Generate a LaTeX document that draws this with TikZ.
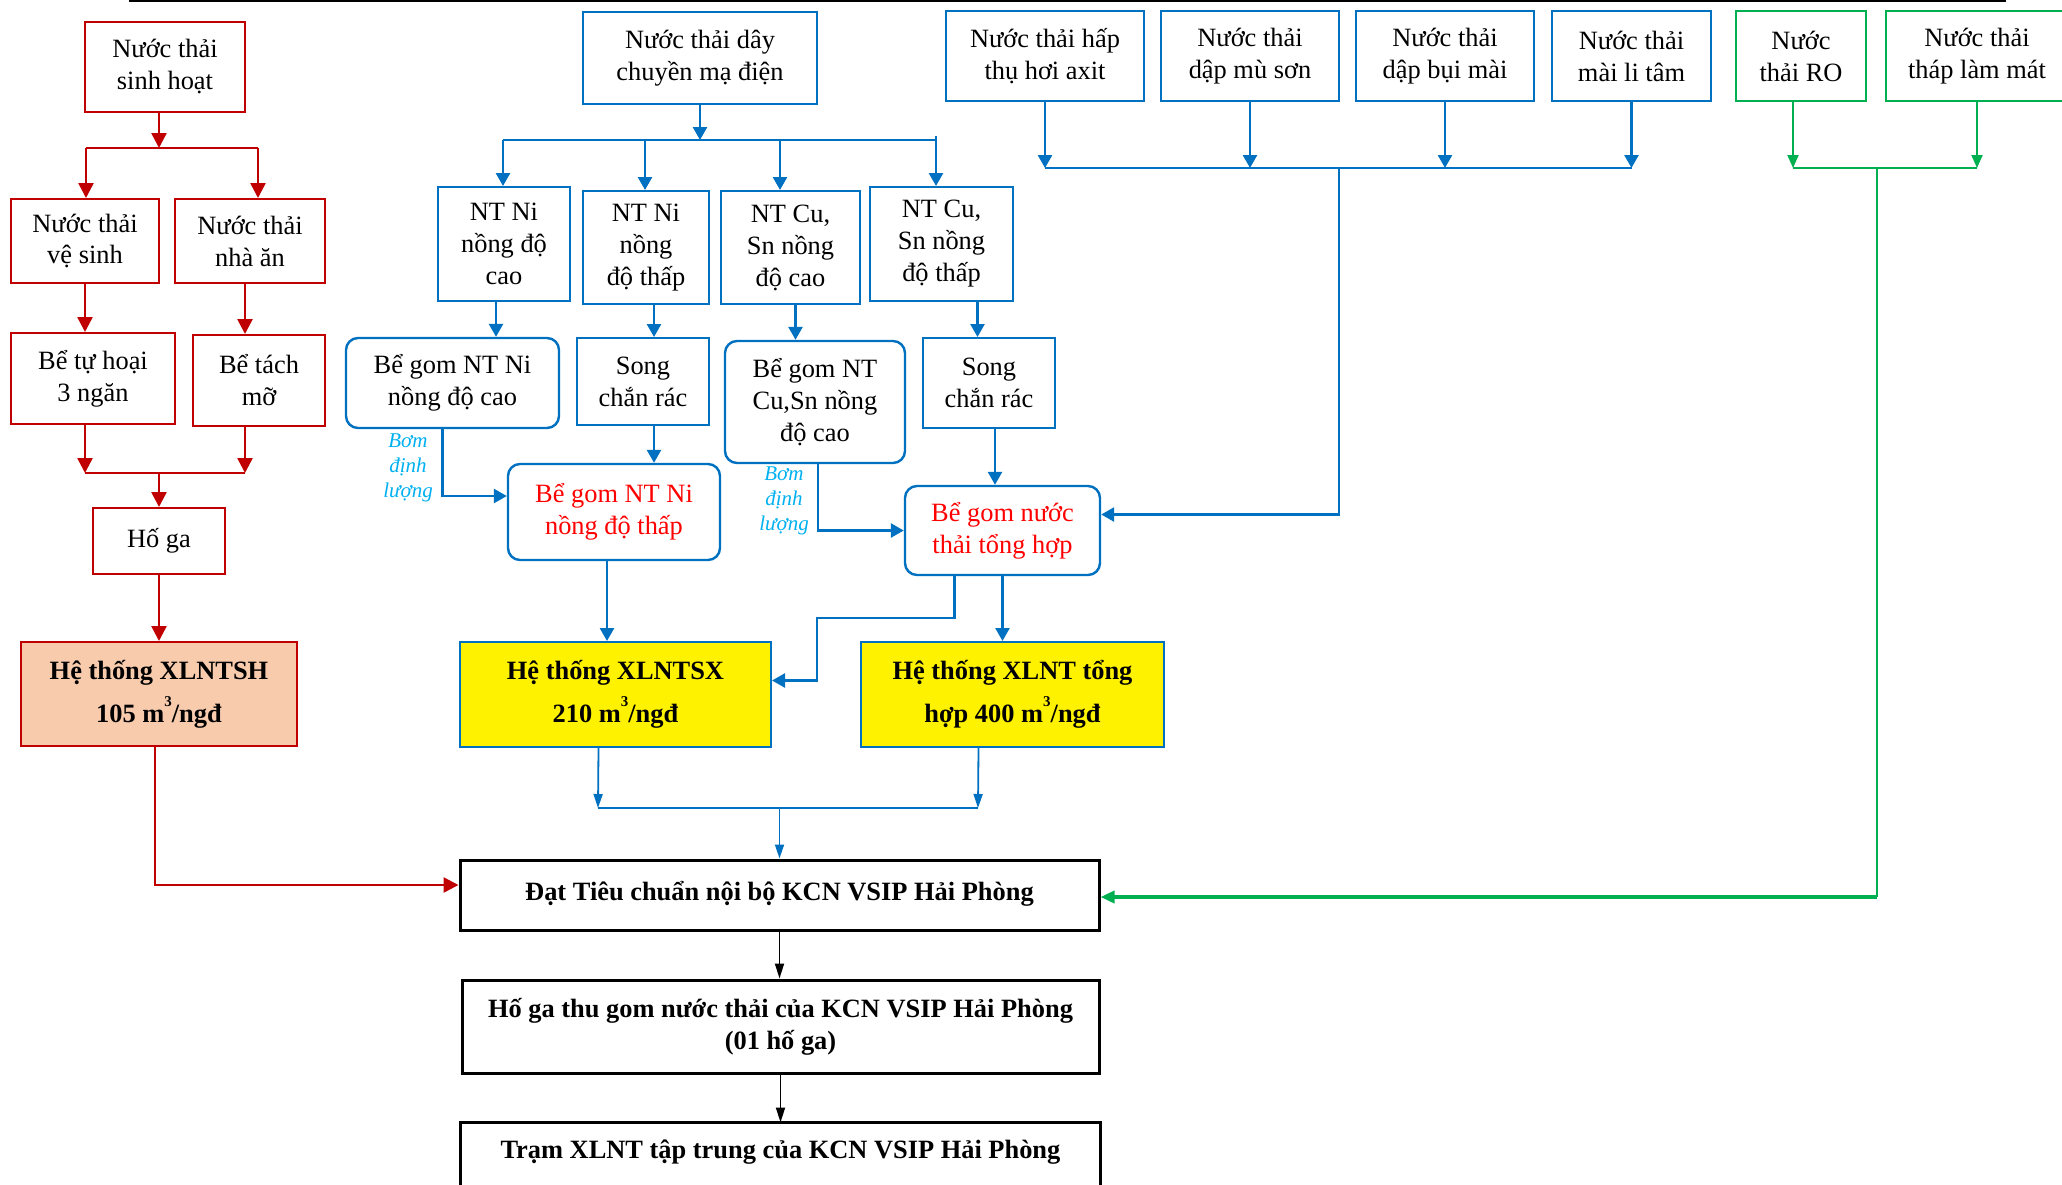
\documentclass[tikz,border=0pt]{standalone}
\usepackage{fontspec}
\setmainfont{Liberation Serif}
\usetikzlibrary{arrows.meta,calc}
\definecolor{rd}{HTML}{C00000}
\definecolor{bl}{HTML}{0070C0}
\definecolor{gr}{HTML}{00B050}
\definecolor{cy}{HTML}{00B0F0}
\definecolor{peach}{HTML}{F8CBAD}
\definecolor{txtred}{HTML}{FF0000}
% raised cubic exponent as printed in the capacity lines
\newcommand{\cubexp}{\raisebox{8pt}{\fontsize{7.5}{8}\selectfont 3}}

\begin{document}
\begin{tikzpicture}[x=0.5pt,y=-0.5pt,
  every node/.style={inner sep=1pt, align=center, font=\fontsize{13.2}{16}\selectfont},
  redbox/.style={draw=rd, line width=1pt},
  bluebox/.style={draw=bl, line width=1pt},
  bluernd/.style={draw=bl, line width=1.2pt, rounded corners=6pt},
  greenbox/.style={draw=gr, line width=1pt},
  plantbox/.style={line width=1pt, font=\fontsize{13.2}{21.5}\selectfont\bfseries},
  blackbox/.style={draw=black, line width=1.5pt, font=\fontsize{13.2}{16}\selectfont\bfseries},
  lbl/.style={text=cy, font=\fontsize{10.5}{12.5}\selectfont\itshape},
  sz/.style 2 args={minimum width=#1, minimum height=#2},
  rarr/.style={draw=rd, line width=1.3pt, -{Triangle[length=7.5pt,width=7.5pt]}},
  rln/.style={draw=rd, line width=0.8pt},
  barr/.style={draw=bl, line width=1.3pt, -{Triangle[length=6.5pt,width=7pt]}},
  bln/.style={draw=bl, line width=1.3pt},
  bthin/.style={draw=bl, line width=0.9pt, -{Triangle[length=7pt,width=4.5pt]}},
  bthinln/.style={draw=bl, line width=0.9pt},
  garr/.style={draw=gr, line width=1pt, -{Triangle[length=6.5pt,width=5.5pt]}},
  gln/.style={draw=gr, line width=1pt},
  gthick/.style={draw=gr, line width=1.8pt, -{Triangle[length=7pt,width=6pt]}},
  karr/.style={draw=black, line width=0.9pt, -{Triangle[length=7.5pt,width=4.5pt]}},
]
\path[use as bounding box] (0,0) rectangle (2062,1184);
\clip (0,0) rectangle (2062,1184);

% header rule
\draw[line width=1pt] (129,1) -- (2006,1);

% ---------- domestic wastewater (red) ----------
\node[redbox, sz={80pt}{45pt}] (A) at (165,67) {Nước thải\\sinh hoạt};
\node[redbox, sz={74pt}{42pt}] (B) at (85,241) {Nước thải\\vệ sinh};
\node[redbox, sz={75pt}{42pt}] (C) at (250,241) {Nước thải\\nhà ăn};
\node[redbox, sz={82pt}{45.5pt}] (D) at (93,378.5) {Bể tự hoại\\3 ngăn};
\node[redbox, sz={66pt}{45.5pt}] (E) at (259,380.5) {Bể tách\\mỡ};
\node[redbox, sz={66pt}{33pt}] (F) at (159,541) {Hố ga};
\node[plantbox, draw=rd, fill=peach, sz={138pt}{52pt}] (G) at (159,694)
  {Hệ thống XLNTSH\\105 m\cubexp/ngđ};

% ---------- production wastewater (blue) ----------
\node[bluebox, sz={117pt}{46pt}] (H) at (700,58) {Nước thải dây\\chuyền mạ điện};
\node[bluebox, sz={66pt}{57pt}] (I1) at (504,244) {NT Ni\\nồng độ\\cao};
\node[bluebox, sz={63pt}{56.5pt}] (I2) at (646,247.5) {NT Ni\\nồng\\độ thấp};
\node[bluebox, sz={69.5pt}{56.5pt}] (I3) at (790.5,247.5) {NT Cu,\\Sn nồng\\độ cao};
\node[bluebox, sz={71.5pt}{57pt}] (I4) at (941.5,244) {NT Cu,\\Sn nồng\\độ thấp};
\node[bluernd, sz={106.5pt}{45pt}] (J1) at (452.5,383) {Bể gom NT Ni\\nồng độ cao};
\node[bluebox, sz={66pt}{43.5pt}] (J2) at (643,381.5) {Song\\chắn rác};
\node[bluernd, sz={90pt}{61pt}] (J3) at (815,402) {Bể gom NT\\Cu,Sn nồng\\độ cao};
\node[bluebox, sz={66pt}{45pt}] (J4) at (989,383) {Song\\chắn rác};
\node[bluernd, text=txtred, sz={106pt}{48pt}] (K1) at (614,512) {Bể gom NT Ni\\nồng độ thấp};
\node[bluernd, text=txtred, sz={97.5pt}{44.5pt}] (K2) at (1002.5,530.5) {Bể gom nước\\thải tổng hợp};
\node[plantbox, draw=bl, fill=yellow, sz={155.5pt}{52.5pt}] (L1) at (615.5,694.5)
  {Hệ thống XLNTSX\\210 m\cubexp/ngđ};
\node[plantbox, draw=bl, fill=yellow, sz={151.5pt}{52.5pt}] (L2) at (1012.5,694.5)
  {Hệ thống XLNT tổng\\hợp 400 m\cubexp/ngđ};
\node[lbl] (pump1) at (408,468) {Bơm\\định\\lượng};
\node[lbl] (pump2) at (784,501) {Bơm\\định\\lượng};

\node[bluebox, sz={99pt}{45pt}] (P1) at (1045,56) {Nước thải hấp\\thụ hơi axit};
\node[bluebox, sz={89pt}{45pt}] (P2) at (1250,56) {Nước thải\\dập mù sơn};
\node[bluebox, sz={89pt}{45pt}] (P3) at (1445,56) {Nước thải\\dập bụi mài};
\node[bluebox, sz={79.5pt}{45pt}] (P4) at (1631.5,56) {Nước thải\\mài li tâm};

% ---------- clean streams (green) ----------
\node[greenbox, sz={65pt}{45pt}] (Q1) at (1801,56) {Nước\\thải RO};
\node[greenbox, sz={91pt}{45pt}] (Q2) at (1977,56) {Nước thải\\tháp làm mát};

% ---------- discharge chain (black) ----------
\node[blackbox, sz={319.5pt}{35pt}] (M) at (779.5,895) {\raisebox{4pt}{Đạt Tiêu chuẩn nội bộ KCN VSIP Hải Phòng}};
\node[blackbox, sz={318.5pt}{46.5pt}] (N) at (780.5,1026.5)
  {Hố ga thu gom nước thải của KCN VSIP Hải Phòng\\(01 hố ga)};
\node[blackbox, draw=none, sz={318.5pt}{28pt}] (O) at (780.5,1152)
  {Trạm XLNT tập trung của KCN VSIP Hải Phòng};
\draw[line width=1.5pt] ($(O.south west)+(0,40)$) |- (O.north east) -- ($(O.south east)+(0,40)$);

% ---------- junction points ----------
\coordinate (rb1) at (159,148);
\coordinate (rbL) at (86,148);
\coordinate (rbR) at (258,148);
\coordinate (rb2L) at (85,473);
\coordinate (rb2R) at (245,473);
\coordinate (bbL) at (503,140);
\coordinate (bb2) at (645,140);
\coordinate (bb3) at (780,140);
\coordinate (bbR) at (936,140);
\coordinate (pb) at (1339,168);
\coordinate (gb) at (1877,168);
\coordinate (gc) at (1877,897);
\coordinate (kc1) at (817,618);
\coordinate (lbL) at (598,808);
\coordinate (lbR) at (978,808);

% ---------- red connectors ----------
\draw[rarr] ($(A.south)+(-6,0)$) -- (rb1);
\draw[rln] (rbL) -- (rbR);
\draw[rarr] (rbL) -- (rbL |- B.north);
\draw[rarr] (rbR) -- (rbR |- C.north);
\draw[rarr] (B.south) -- (B.south |- D.north);
\draw[rarr] ($(C.south)+(-5,0)$) -- ($(C.south |- E.north)+(-5,0)$);
\draw[rarr] (D.south -| rb2L) -- (rb2L);
\draw[rarr] (E.south -| rb2R) -- (rb2R);
\draw[rln] (rb2L) -- (rb2R);
\draw[rarr] (rb2L -| F.north) -- (F.north);
\draw[rarr] (F.south) -- (G.north);
\draw[rarr] ($(G.south)+(-4,0)$) |- ($(M.west)+(0,-10)$);

% ---------- blue connectors ----------
\draw[barr] (H.south) -- (H.south |- bbL);
\draw[bln] (bbL) -- (bbR);
\draw[barr] (bbL) -- (bbL |- I1.north);
\draw[barr] (bb2) -- (bb2 |- I2.north);
\draw[barr] (bb3) -- (bb3 |- I3.north);
\draw[barr] ($(bbR)+(0,-4)$) -- (bbR |- I4.north);
\draw[barr] ($(I1.south)+(-8,0)$) -- ($(I1.south |- J1.north)+(-8,0)$);
\draw[barr] ($(I2.south)+(8,0)$) -- ($(I2.south |- J2.north)+(8,0)$);
\draw[barr] ($(I3.south)+(5,0)$) -- ($(I3.south |- J3.north)+(5,0)$);
\draw[barr] ($(I4.south)+(36,0)$) -- ($(I4.south |- J4.north)+(36,0)$);
\draw[barr] ($(J1.south)+(-10,0)$) |- ($(K1.west)+(0,-16)$);
\draw[barr] ($(J2.south)+(11,0)$) -- ($(J2.south |- K1.north)+(11,0)$);
\draw[barr] ($(J3.south)+(3,0)$) |- (K2.west);
\draw[barr] ($(J4.south)+(6,0)$) -- ($(J4.south |- K2.north)+(6,0)$);
\draw[barr] ($(K1.south)+(-7,0)$) -- ($(K1.south |- L1.north)+(-7,0)$);
\draw[barr] (K2.south) -- (K2.south |- L2.north);
\draw[barr] ($(K2.south)+(-48,0)$) |- (kc1) |- ($(L1.east)+(0,-14)$);

\draw[barr] (P1.south) -- (P1.south |- pb);
\draw[barr] (P2.south) -- (P2.south |- pb);
\draw[barr] (P3.south) -- (P3.south |- pb);
\draw[barr] (P4.south) -- (P4.south |- pb);
\draw[bln] (P1.south |- pb) -- (P4.south |- pb);
\draw[barr] (pb) |- ($(K2.east)+(0,-16)$);

\draw[bthin] ($(L1.south)+(-17,0)$) -- (lbL);
\draw[bthin] ($(L2.south)+(-34,0)$) -- (lbR);
\draw[bthinln] (lbL) -- (lbR);
\draw[bthin] (lbL -| M.north) -- (M.north);

% ---------- green connectors ----------
\draw[garr] ($(Q1.south)+(-8,0)$) -- ($(Q1.south |- gb)+(-8,0)$);
\draw[garr] (Q2.south) -- (Q2.south |- gb);
\draw[gln] ($(Q1.south |- gb)+(-8,0)$) -- (Q2.south |- gb);
\draw[gln] (gb) -- (gc);
\draw[gthick] (gc) -- (gc -| M.east);

% ---------- black connectors ----------
\draw[karr] (M.south) -- (M.south |- N.north);
\draw[karr] (N.south) -- (O.north);
\end{tikzpicture}
\end{document}
